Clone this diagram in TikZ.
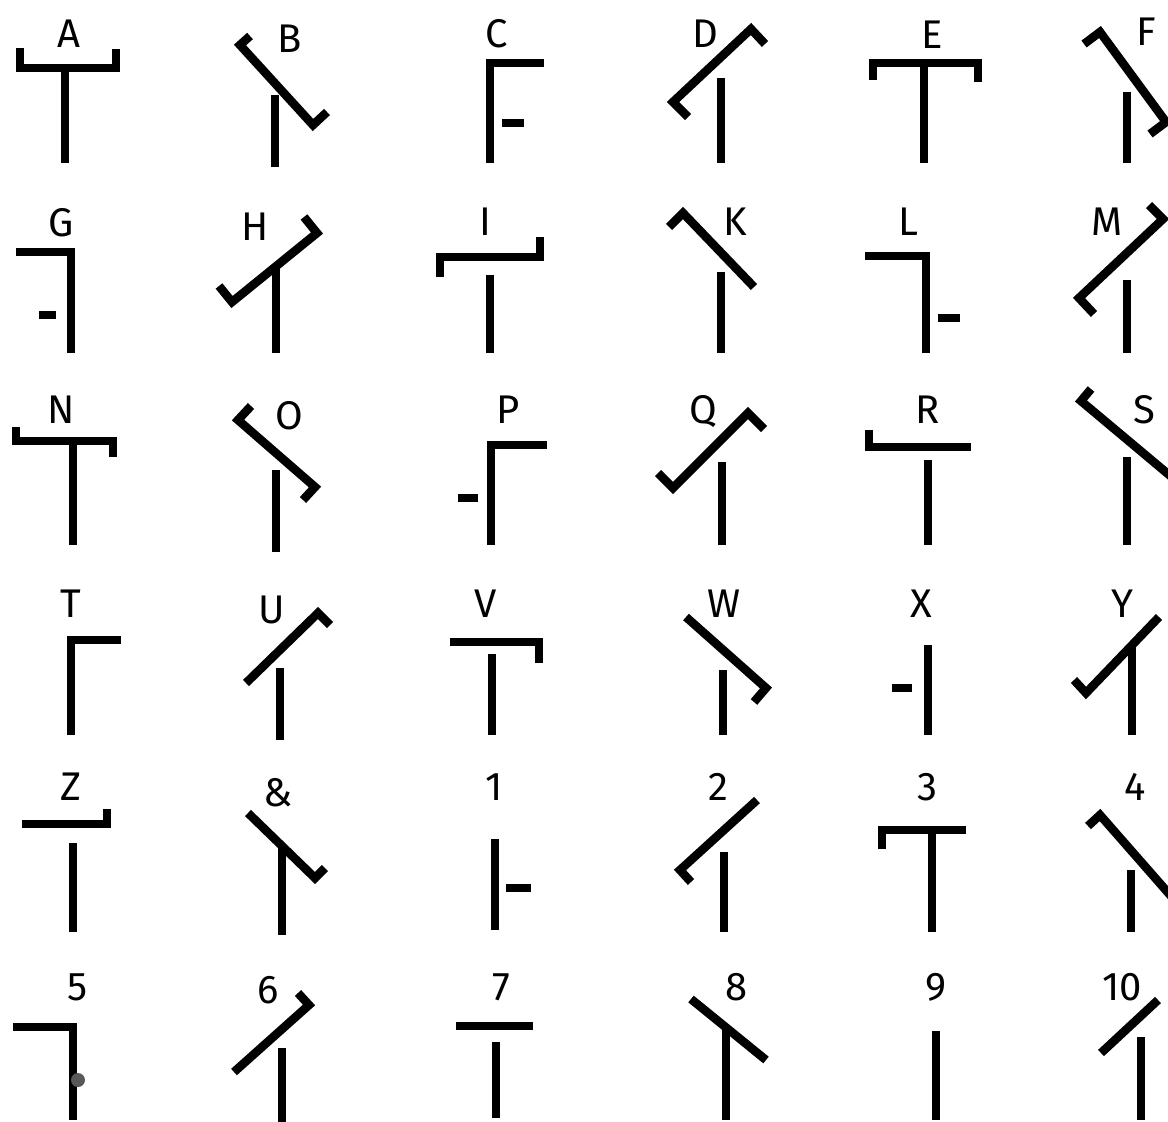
\documentclass[tikz,border=0pt]{standalone}
\usepackage{fontspec}
\setmainfont{Fira Sans}
\tikzset{
  g/.style={line width=8.6pt, line join=miter, line cap=butt, draw=black},
  lab/.style={font=\fontsize{40}{40}\selectfont, anchor=base, inner sep=0pt},
  dotmark/.style={fill=black!65, draw=none}
}
\begin{document}
\begin{tikzpicture}[x=1pt,y=-1pt]
\fill[white] (0,0) rectangle (1168,1122);
\useasboundingbox (0,0) rectangle (1168,1122);
% ---------- row 1
\node[lab] (lA) at (69,47) {A};
\draw[g] (20,48)--(20,68)--(116,68)--(116,49);
\draw[g] (65,68)--(65,163);
\node[lab] (lB) at (290,52) {B};
\draw[g] (250,36)--(240,45)--(313,125)--(327,112);
\draw[g] (275,95)--(275,167);
\node[lab] (lC) at (497,47) {C};
\draw[g] (544,63)--(490,63)--(490,163);
\draw[g] (502,123)--(524,123);
\node[lab] (lD) at (705,47) {D};
\draw[g] (688,117)--(673,102)--(751,29)--(765,44);
\draw[g] (721,78)--(721,163);
\node[lab] (lE) at (932,48) {E};
\draw[g] (873,80)--(873,63)--(978,63)--(978,82);
\draw[g] (924,63)--(924,163);
\node[lab] (lF) at (1146,45) {F};
\draw[g] (1084,44)--(1100,32)--(1166,122)--(1150,134);
\draw[g] (1127,92)--(1127,163);
% ---------- row 2
\node[lab] (lG) at (61,236) {G};
\draw[g] (16,252)--(71,252)--(71,353);
\draw[g] (39,315)--(56,315);
\node[lab] (lH) at (255,240) {H};
\draw[g] (219,286)--(232,302)--(317,233)--(304,217);
\draw[g] (276,266)--(276,353);
\node[lab] (lI) at (485,235) {I};
\draw[g] (440,277)--(440,257)--(540,257)--(540,237);
\draw[g] (490,275)--(490,353);
\node[lab] (lK) at (735,235) {K};
\draw[g] (669,227)--(683,213)--(754,287);
\draw[g] (721,272)--(721,353);
\node[lab] (lL) at (908,235) {L};
\draw[g] (865,256)--(926,256)--(926,353);
\draw[g] (938,318)--(960,318);
\node[lab] (lM) at (1107,235) {M};
\draw[g] (1149,205)--(1163,219)--(1079,298)--(1094,314);
\draw[g] (1127,280)--(1127,353);
% ---------- row 3
\node[lab] (lN) at (61,423) {N};
\draw[g] (16,427)--(16,441)--(113,441)--(113,457);
\draw[g] (73,441)--(73,545);
\node[lab] (lO) at (289,429) {O};
\draw[g] (251,406)--(238,420)--(315,487)--(303,500);
\draw[g] (276,470)--(276,552);
\node[lab] (lP) at (508,423) {P};
\draw[g] (491,545)--(491,445)--(547,445);
\draw[g] (458,498)--(478,498);
\node[lab] (lQ) at (703,423) {Q};
\draw[g] (658,473)--(673,488)--(748,413)--(764,429);
\draw[g] (722,462)--(722,545);
\node[lab] (lR) at (928,423) {R};
\draw[g] (869,430)--(869,447)--(971,447);
\draw[g] (928,460)--(928,545);
\node[lab] (lS) at (1144,423) {S};
\draw[g] (1091,389)--(1081,401)--(1180,484);
\draw[g] (1127,457)--(1127,545);
% ---------- row 4
\node[lab] (lT) at (71,617) {T};
\draw[g] (71,735)--(71,640)--(121,640);
\node[lab] (lU) at (272,623) {U};
\draw[g] (246,683)--(318,613)--(330,625);
\draw[g] (280,668)--(280,740);
\node[lab] (lV) at (486,617) {V};
\draw[g] (450,642)--(539,642)--(539,663);
\draw[g] (492,654)--(492,735);
\node[lab] (lW) at (724,617) {W};
\draw[g] (686,617)--(766,688)--(754,702);
\draw[g] (723,670)--(723,735);
\node[lab] (lX) at (921,617) {X};
\draw[g] (928,645)--(928,735);
\draw[g] (892,688)--(912,688);
\node[lab] (lY) at (1122,617) {Y};
\draw[g] (1074,680)--(1086,693)--(1159,617);
\draw[g] (1132,645)--(1132,735);
% ---------- row 5
\node[lab] (lZ) at (71,800) {Z};
\draw[g] (22,824)--(107,824)--(107,809);
\draw[g] (73,843)--(73,932);
\node[lab] (lamp) at (278,806) {\&};
\draw[g] (248,813)--(315,878)--(325,868);
\draw[g] (282,846)--(282,935);
\node[lab] (l1) at (494,800) {1};
\draw[g] (495,839)--(495,930);
\draw[g] (506,888)--(531,888);
\node[lab] (l2) at (718,800) {2};
\draw[g] (691,882)--(680,870)--(757,800);
\draw[g] (724,852)--(724,932);
\node[lab] (l3) at (927,800) {3};
\draw[g] (882,849)--(882,830)--(966,830);
\draw[g] (932,830)--(932,932);
\node[lab] (l4) at (1135,800) {4};
\draw[g] (1088,826)--(1100,815)--(1178,904);
\draw[g] (1131,870)--(1131,932);
% ---------- row 6
\node[lab] (l5) at (78,1000) {5};
\draw[g] (13,1027)--(73,1027)--(73,1120);
\fill[dotmark] (78,1080) circle (7);
\node[lab] (l6) at (268,1003) {6};
\draw[g] (234,1072)--(309,1005)--(298,993);
\draw[g] (282,1048)--(282,1125);
\node[lab] (l7) at (501,1000) {7};
\draw[g] (456,1026)--(533,1026);
\draw[g] (496,1042)--(496,1118);
\node[lab] (l8) at (737,1000) {8};
\draw[g] (691,999)--(766,1060);
\draw[g] (726,1030)--(726,1120);
\node[lab] (l9) at (936,1000) {9};
\draw[g] (936,1031)--(936,1120);
\node[lab] (l10) at (1122,1000) {10};
\draw[g] (1101,1053)--(1158,1000);
\draw[g] (1141,1037)--(1141,1120);
\end{tikzpicture}
\end{document}
